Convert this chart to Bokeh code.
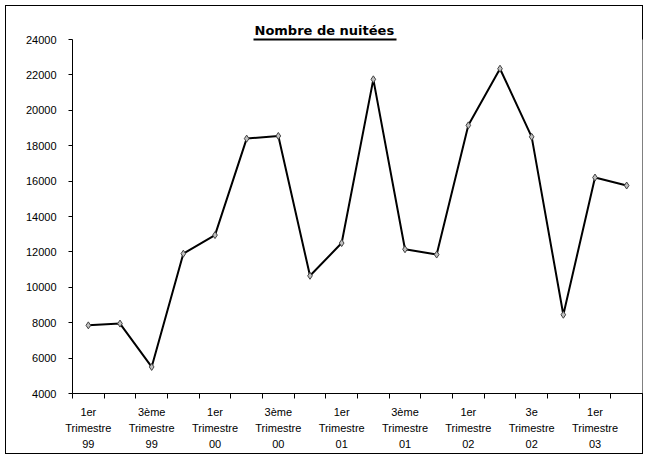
from bokeh.plotting import figure
from bokeh.models import FixedTicker, Range1d, LinearAxis, InlineStyleSheet
from bokeh.embed import file_html
from bokeh.resources import INLINE

# ---- data ----
quarters = ["1er Trimestre 99", "2ème Trimestre 99", "3ème Trimestre 99", "4ème Trimestre 99",
            "1er Trimestre 00", "2ème Trimestre 00", "3ème Trimestre 00", "4ème Trimestre 00",
            "1er Trimestre 01", "2ème Trimestre 01", "3ème Trimestre 01", "4ème Trimestre 01",
            "1er Trimestre 02", "2ème Trimestre 02", "3e Trimestre 02", "4ème Trimestre 02",
            "1er Trimestre 03", "2ème Trimestre 03"]
nuitees = [7850, 7950, 5500, 11900, 12950, 18400, 18550, 10650, 12500,
           21750, 12150, 11850, 19150, 22350, 18500, 8450, 16200, 15750]
tick_labels = ["1er\nTrimestre\n99", "3ème\nTrimestre\n99", "1er\nTrimestre\n00",
               "3ème\nTrimestre\n00", "1er\nTrimestre\n01", "3ème\nTrimestre\n01",
               "1er\nTrimestre\n02", "3e\nTrimestre\n02", "1er\nTrimestre\n03"]
y_ticks = [4000, 6000, 8000, 10000, 12000, 14000, 16000, 18000, 20000, 22000, 24000]
title_text = "Nombre de nuitées"

n = len(quarters)
xs = [i + 0.5 for i in range(n)]
label_pos = [xs[i] for i in range(0, n, 2)]

W, H = 648, 459
p = figure(width=W, height=H, output_backend="svg", toolbar_location=None,
           x_range=Range1d(0, n), y_range=Range1d(4000, 24000),
           min_border_left=72, min_border_right=6, min_border_top=39, min_border_bottom=66)
p.background_fill_color = "white"
p.border_fill_color = "white"
p.border_fill_alpha = 0
p.outline_line_color = None
p.xgrid.visible = False
p.ygrid.visible = False
# outer chart-area frame (CSS outline drawn inside the element)
p.styles = {"outline": "1px solid black", "outline-offset": "-6px", "background": "white"}
p.stylesheets = [InlineStyleSheet(css=":host { outline: 1px solid black; outline-offset: -6px; background: white; }")]

FONT = "Liberation Sans"

# y axis
p.yaxis.ticker = FixedTicker(ticks=y_ticks)
p.yaxis.major_tick_out = 4
p.yaxis.major_tick_in = 0
p.yaxis.minor_tick_out = 0
p.yaxis.minor_tick_in = 0
p.yaxis.major_label_standoff = 12
p.yaxis.axis_line_color = "black"
p.yaxis.major_tick_line_color = "black"
p.yaxis.major_label_text_font = FONT
p.yaxis.major_label_text_font_size = "11px"
p.yaxis.major_label_text_color = "black"

# x axis
p.xaxis.ticker = FixedTicker(ticks=label_pos, minor_ticks=list(range(n + 1)))
p.xaxis.major_label_overrides = {pos: lab for pos, lab in zip(label_pos, tick_labels)}
p.xaxis.major_tick_out = 0
p.xaxis.major_tick_in = 0
p.xaxis.minor_tick_out = 5
p.xaxis.minor_tick_in = 0
p.xaxis.minor_tick_line_color = "black"
p.xaxis.axis_line_color = "black"
p.xaxis.major_label_standoff = 7
p.xaxis.major_label_text_font = FONT
p.xaxis.major_label_text_font_size = "11px"
p.xaxis.major_label_text_line_height = 1.36
p.xaxis.major_label_text_color = "black"

# title underline: a bare axis line above the frame, bounded to the title width
underline = LinearAxis(ticker=FixedTicker(ticks=[]), bounds=(5.71, 10.23),
                       axis_line_color="black", axis_line_width=2,
                       major_tick_out=0, major_tick_in=0, minor_tick_out=0, minor_tick_in=0,
                       major_label_text_font_size="0px", major_label_standoff=0)
p.add_layout(underline, "above")

# title
p.title.text = title_text
p.title.align = "left"
p.title.offset = 182
p.title.text_font = "DejaVu Sans"
p.title.text_font_style = "bold"
p.title.text_font_size = "13px"
p.title.text_color = "black"
p.title.standoff = 4

# series
p.line(xs, nuitees, line_color="black", line_width=2)
p.scatter(xs, nuitees, marker="diamond", size=7, fill_color="#c0c0c0",
          line_color="#404040", line_width=1)

open("out.html", "w").write(file_html(p, INLINE))
